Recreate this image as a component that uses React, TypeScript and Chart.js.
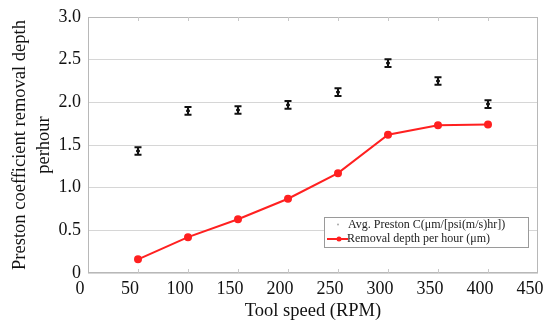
import React, { useEffect, useRef } from "react";
import { Chart, registerables } from "chart.js";

Chart.register(...registerables);

const toolSpeeds = [50, 100, 150, 200, 250, 300, 350, 400];
const prestonC = [1.43, 1.9, 1.91, 1.97, 2.12, 2.46, 2.25, 1.98];
const prestonErr = [0.045, 0.045, 0.045, 0.045, 0.045, 0.045, 0.045, 0.045];
const removalDepth = [0.16, 0.42, 0.63, 0.87, 1.17, 1.62, 1.73, 1.74];
const prestonLabel = "Avg. Preston C(\u03bcm/[psi(m/s)hr])";
const removalLabel = "Removal depth per hour (\u03bcm)";
const xTitle = "Tool speed (RPM)";
const yTitle = ["Preston coefficient removal depth", "perhour"];

const FONT = "'Liberation Serif', 'Times New Roman', serif";

const decorPlugin = {
  id: "decor",
  beforeDatasetsDraw(chart: any) {
    const { ctx, chartArea } = chart;
    const xs = chart.scales.x;
    ctx.save();
    ctx.strokeStyle = "#b8b8b8";
    ctx.lineWidth = 1;
    ctx.strokeRect(chartArea.left + 0.5, chartArea.top + 0.5, chartArea.right - chartArea.left - 1, chartArea.bottom - chartArea.top - 1);
    ctx.strokeStyle = "#c8c8c8";
    xs.ticks.forEach((t: any) => {
      const px = Math.round(xs.getPixelForValue(t.value)) + 0.5;
      if (px <= chartArea.left + 2 || px >= chartArea.right - 2) return;
      ctx.beginPath();
      ctx.moveTo(px, chartArea.top);
      ctx.lineTo(px, chartArea.top + 4);
      ctx.moveTo(px, chartArea.bottom);
      ctx.lineTo(px, chartArea.bottom - 4);
      ctx.stroke();
    });
    ctx.restore();
  },
  afterDatasetsDraw(chart: any) {
    const { ctx } = chart;
    const xs = chart.scales.x;
    const ys = chart.scales.y;
    ctx.save();
    ctx.strokeStyle = "#111";
    ctx.lineWidth = 2;
    toolSpeeds.forEach((sx, i) => {
      const px = xs.getPixelForValue(sx);
      const y1 = ys.getPixelForValue(prestonC[i] + prestonErr[i]);
      const y2 = ys.getPixelForValue(prestonC[i] - prestonErr[i]);
      ctx.beginPath();
      ctx.moveTo(px, y1);
      ctx.lineTo(px, y2);
      ctx.moveTo(px - 3.5, y1);
      ctx.lineTo(px + 3.5, y1);
      ctx.moveTo(px - 3.5, y2);
      ctx.lineTo(px + 3.5, y2);
      ctx.stroke();
    });
    ctx.restore();
  },
  afterDraw(chart: any) {
    const { ctx, chartArea } = chart;
    const bx = chartArea.right - 214;
    const by = chartArea.bottom - 56;
    const bw = 204;
    const bh = 30;
    ctx.save();
    ctx.fillStyle = "#ffffff";
    ctx.fillRect(bx, by, bw, bh);
    ctx.strokeStyle = "#9a9a9a";
    ctx.lineWidth = 1;
    ctx.strokeRect(bx + 0.5, by + 0.5, bw, bh);
    ctx.font = "12px " + FONT;
    ctx.textBaseline = "middle";
    // entry 1
    ctx.fillStyle = "#aaaaaa";
    ctx.beginPath();
    ctx.arc(bx + 14, by + 7.5, 1, 0, Math.PI * 2);
    ctx.fill();
    ctx.fillStyle = "#222";
    ctx.fillText(chart.data.datasets[0].label, bx + 24, by + 8);
    // entry 2
    ctx.strokeStyle = "#ff2020";
    ctx.lineWidth = 2;
    ctx.beginPath();
    ctx.moveTo(bx + 3, by + 22);
    ctx.lineTo(bx + 24, by + 22);
    ctx.stroke();
    ctx.fillStyle = "#ff2020";
    ctx.beginPath();
    ctx.arc(bx + 15, by + 22, 2.5, 0, Math.PI * 2);
    ctx.fill();
    ctx.fillStyle = "#222";
    ctx.fillText(chart.data.datasets[1].label, bx + 23, by + 22);
    ctx.restore();
  },
};

export default function App() {
  const ref = useRef<HTMLCanvasElement>(null);
  useEffect(() => {
    if (!ref.current) return;
    const chart = new Chart(ref.current, {
      type: "scatter",
      data: {
        datasets: [
          {
            label: prestonLabel,
            data: toolSpeeds.map((x, i) => ({ x, y: prestonC[i] })),
            showLine: false,
            pointRadius: 1.5,
            pointBackgroundColor: "#111",
            pointBorderColor: "#111",
          },
          {
            label: removalLabel,
            data: toolSpeeds.map((x, i) => ({ x, y: removalDepth[i] })),
            showLine: true,
            borderColor: "#ff2020",
            backgroundColor: "#ff2020",
            borderWidth: 2,
            pointRadius: 3,
            pointBackgroundColor: "#ff2020",
            pointBorderColor: "#ff2020",
          },
        ],
      },
      options: {
        responsive: false,
        animation: false,
        layout: { padding: { top: 17, right: 11, left: 0, bottom: 0 } },
        plugins: { legend: { display: false }, tooltip: { enabled: false } },
        scales: {
          x: {
            type: "linear",
            min: 0,
            max: 450,
            grid: { display: false, drawTicks: false },
            border: { display: false },
            ticks: { stepSize: 50, color: "#111", font: { family: FONT, size: 18 }, padding: 5, maxRotation: 0, labelOffset: -8 },
            title: { display: true, text: xTitle, color: "#111", font: { family: FONT, size: 18.5, lineHeight: 1 }, padding: { top: 0, bottom: 0 } },
            afterFit(scale: any) {
              scale.height = 47;
              scale.paddingLeft = 0;
              scale.paddingRight = 0;
            },
          },
          y: {
            min: 0,
            max: 3,
            grid: { color: "#d6d6d6", drawTicks: false },
            border: { display: false },
            ticks: {
              stepSize: 0.5,
              color: "#111",
              font: { family: FONT, size: 18 },
              padding: 7,
              callback: (v: any) => (v === 0 ? "0" : Number(v).toFixed(1)),
            },
            title: { display: true, text: yTitle, color: "#111", font: { family: FONT, size: 18.5, lineHeight: 1.3 }, padding: { top: 8, bottom: 0 } },
            afterFit(scale: any) {
              scale.width = 88;
              scale.paddingTop = 0;
              scale.paddingBottom = 0;
            },
          },
        },
      },
      plugins: [decorPlugin],
    } as any);
    return () => chart.destroy();
  }, []);
  return (
    <div style={{ position: "absolute", left: 0, top: 0, width: 549, height: 320, background: "#fff" }}>
      <canvas ref={ref} width={549} height={320} />
    </div>
  );
}
